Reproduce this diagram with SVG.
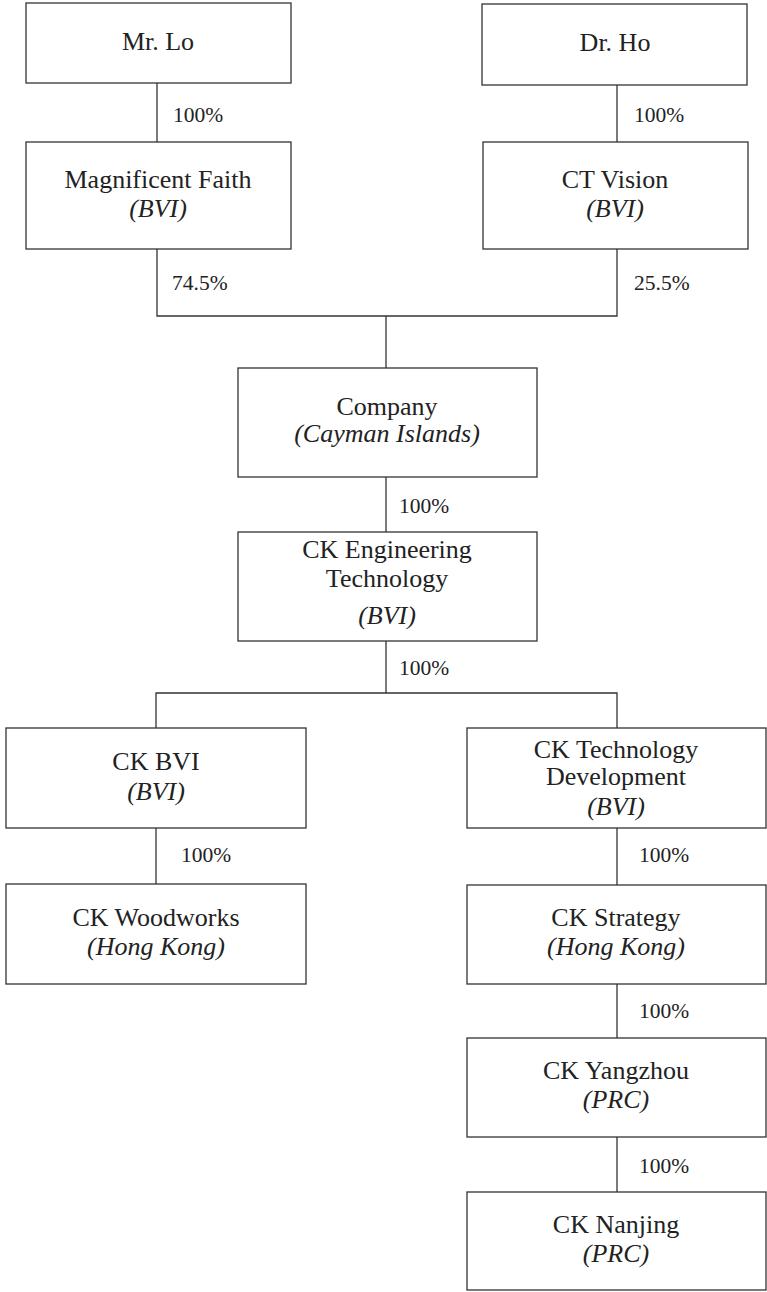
<svg xmlns="http://www.w3.org/2000/svg" width="767" height="1292" viewBox="0 0 767 1292">
<style>
.box{fill:#fff;stroke:#333;stroke-width:1.3}
.ln{fill:none;stroke:#333;stroke-width:1.3}
.t{font-family:"Liberation Serif","Times New Roman",serif;font-size:26px;fill:#222;text-anchor:middle}
.i{font-style:italic}
.p{font-family:"Liberation Serif","Times New Roman",serif;font-size:21.5px;fill:#222}
</style>
<rect width="767" height="1292" fill="#fff"/>
<g id="connectors">
<line class="ln" x1="157" y1="83" x2="157" y2="142"/>
<line class="ln" x1="617" y1="85" x2="617" y2="142"/>
<polyline class="ln" points="157,249 157,316 617,316 617,249"/>
<line class="ln" x1="386" y1="316" x2="386" y2="368"/>
<line class="ln" x1="386" y1="477" x2="386" y2="532"/>
<line class="ln" x1="386" y1="641" x2="386" y2="693"/>
<polyline class="ln" points="156,728 156,693 617,693 617,728"/>
<line class="ln" x1="156" y1="828" x2="156" y2="884"/>
<line class="ln" x1="617" y1="828" x2="617" y2="885"/>
<line class="ln" x1="617" y1="984" x2="617" y2="1038"/>
<line class="ln" x1="617" y1="1137" x2="617" y2="1192"/>
<text class="p" x="173" y="122">100%</text>
<text class="p" x="634" y="122">100%</text>
<text class="p" x="172" y="290">74.5%</text>
<text class="p" x="634" y="290">25.5%</text>
<text class="p" x="399" y="513">100%</text>
<text class="p" x="399" y="675">100%</text>
<text class="p" x="181" y="862">100%</text>
<text class="p" x="639" y="862">100%</text>
<text class="p" x="639" y="1018">100%</text>
<text class="p" x="639" y="1173">100%</text>
</g>
<g id="mr-lo">
<rect class="box" x="26" y="3" width="265" height="80"/>
<text class="t" x="158" y="50">Mr. Lo</text>
</g>
<g id="dr-ho">
<rect class="box" x="482" y="4" width="265" height="81"/>
<text class="t" x="615" y="51">Dr. Ho</text>
</g>
<g id="magnificent-faith">
<rect class="box" x="26" y="142" width="265" height="107"/>
<text class="t" x="158" y="188">Magnificent Faith</text>
<text class="t i" x="158" y="217">(BVI)</text>
</g>
<g id="ct-vision">
<rect class="box" x="483" y="142" width="265" height="107"/>
<text class="t" x="615" y="188">CT Vision</text>
<text class="t i" x="615" y="217">(BVI)</text>
</g>
<g id="company">
<rect class="box" x="238" y="368" width="299" height="109"/>
<text class="t" x="387" y="415">Company</text>
<text class="t i" x="387" y="442">(Cayman Islands)</text>
</g>
<g id="ck-engineering">
<rect class="box" x="238" y="532" width="299" height="109"/>
<text class="t" x="387" y="558">CK Engineering</text>
<text class="t" x="387" y="587">Technology</text>
<text class="t i" x="387" y="624">(BVI)</text>
</g>
<g id="ck-bvi">
<rect class="box" x="6" y="728" width="300" height="100"/>
<text class="t" x="156" y="770">CK BVI</text>
<text class="t i" x="156" y="800">(BVI)</text>
</g>
<g id="ck-tech-dev">
<rect class="box" x="467" y="728" width="299" height="100"/>
<text class="t" x="616" y="758">CK Technology</text>
<text class="t" x="616" y="785">Development</text>
<text class="t i" x="616" y="815">(BVI)</text>
</g>
<g id="ck-woodworks">
<rect class="box" x="6" y="884" width="300" height="100"/>
<text class="t" x="156" y="926">CK Woodworks</text>
<text class="t i" x="156" y="955">(Hong Kong)</text>
</g>
<g id="ck-strategy">
<rect class="box" x="467" y="885" width="299" height="99"/>
<text class="t" x="616" y="926">CK Strategy</text>
<text class="t i" x="616" y="955">(Hong Kong)</text>
</g>
<g id="ck-yangzhou">
<rect class="box" x="467" y="1038" width="299" height="99"/>
<text class="t" x="616" y="1079">CK Yangzhou</text>
<text class="t i" x="616" y="1108">(PRC)</text>
</g>
<g id="ck-nanjing">
<rect class="box" x="467" y="1192" width="299" height="98"/>
<text class="t" x="616" y="1233">CK Nanjing</text>
<text class="t i" x="616" y="1262">(PRC)</text>
</g>
</svg>
